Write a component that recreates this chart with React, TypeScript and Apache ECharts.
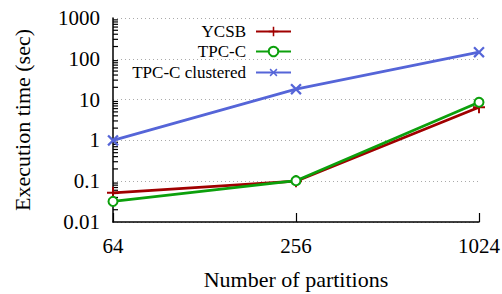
import React, { useEffect, useRef } from "react";
import * as echarts from "echarts";

const partitions = ["64", "256", "1024"];
const ycsb = [0.052, 0.1, 6.5];
const tpcc = [0.032, 0.103, 8.6];
const tpccClustered = [1.0, 18, 145];
const yTicks = [0.01, 0.1, 1, 10, 100, 1000];
const minorTickValues: number[] = [];
[0.01, 0.1, 1, 10, 100].forEach((d) => {
  for (let k = 2; k <= 9; k++) minorTickValues.push(+(d * k).toPrecision(3));
});

const RED = "#a00000";
const GREEN = "#0ca00c";
const BLUE = "#5565d8";
const FONT = "Liberation Serif";
const PLUS = "path://M4.2,0H5.8V4.2H10V5.8H5.8V10H4.2V5.8H0V4.2H4.2Z";

export default function App() {
  const ref = useRef<HTMLDivElement>(null);
  useEffect(() => {
    if (!ref.current) return;
    const chart = echarts.init(ref.current, null, { renderer: "svg" });
    const legendBase = {
      orient: "horizontal" as const,
      right: 210,
      padding: 0,
      align: "right" as const,
      itemWidth: 35,
      itemHeight: 12,
      textStyle: { fontFamily: FONT, fontSize: 17, color: "#000", padding: [0, 5, 0, 0] },
    };
    chart.setOption({
      animation: false,
      grid: { left: 113, right: 23, top: 18, bottom: 72, outerBoundsMode: "none", containLabel: false },
      legend: [
        { ...legendBase, top: 23, data: ["YCSB"] },
        { ...legendBase, top: 43, data: ["TPC-C"] },
        { ...legendBase, top: 64, data: ["TPC-C clustered"] },
      ],
      xAxis: {
        type: "category",
        data: partitions,
        boundaryGap: false,
        name: "Number of partitions",
        nameLocation: "middle",
        nameGap: 46,
        nameTextStyle: { fontFamily: FONT, fontSize: 22, color: "#000" },
        axisLine: { lineStyle: { color: "#000", width: 1.5 } },
        axisTick: { inside: true, length: 9, lineStyle: { color: "#000", width: 1.2 } },
        axisLabel: { fontFamily: FONT, fontSize: 21, color: "#000", margin: 13 },
        splitLine: { show: false },
      },
      yAxis: {
        type: "log",
        logBase: 10,
        min: 0.01,
        max: 1000,
        name: "Execution time (sec)",
        nameLocation: "middle",
        nameGap: 80,
        nameTextStyle: { fontFamily: FONT, fontSize: 22, color: "#000" },
        axisLine: { show: true, lineStyle: { color: "#000", width: 1.5 } },
        axisTick: { inside: true, length: 9, lineStyle: { color: "#000", width: 1.2 } },
        axisLabel: {
          fontFamily: FONT,
          fontSize: 21,
          color: "#000",
          margin: 13,
          formatter: (v: number) => {
            const m = yTicks.find((t) => Math.abs(Math.log10(t) - Math.log10(v)) < 1e-6);
            return m !== undefined ? String(m) : "";
          },
        },
        splitLine: { show: true, lineStyle: { color: "#aaa", type: [1, 3], width: 1 } },
      },
      series: [
        {
          name: "minor",
          type: "custom",
          silent: true,
          data: minorTickValues.map((v) => [0, v]),
          encode: { x: 0, y: 1 },
          renderItem: (params: any, api: any) => {
            const p = api.coord([0, api.value(1)]);
            return {
              type: "line",
              shape: { x1: p[0], y1: p[1], x2: p[0] + 5, y2: p[1] },
              style: { stroke: "#000", lineWidth: 1.2 },
            };
          },
          z: 1,
        },
        {
          name: "YCSB",
          type: "line",
          data: ycsb,
          color: RED,
          lineStyle: { width: 2.8, color: RED },
          symbol: PLUS,
          symbolSize: 12,
          itemStyle: { color: RED },
          z: 3,
        },
        {
          name: "TPC-C",
          type: "line",
          data: tpcc,
          color: GREEN,
          lineStyle: { width: 2.8, color: GREEN },
          symbol: "emptyCircle",
          symbolSize: 9,
          itemStyle: { color: GREEN, borderWidth: 2.4, borderColor: GREEN },
          z: 4,
        },
        {
          name: "TPC-C clustered",
          type: "line",
          data: tpccClustered,
          color: BLUE,
          lineStyle: { width: 2.8, color: BLUE },
          symbol: PLUS,
          symbolRotate: 45,
          symbolSize: 14,
          itemStyle: { color: BLUE },
          z: 3,
        },
      ],
    });
    return () => chart.dispose();
  }, []);
  return (
    <div
      ref={ref}
      style={{ position: "absolute", left: 0, top: 0, width: 502, height: 294 }}
    />
  );
}
